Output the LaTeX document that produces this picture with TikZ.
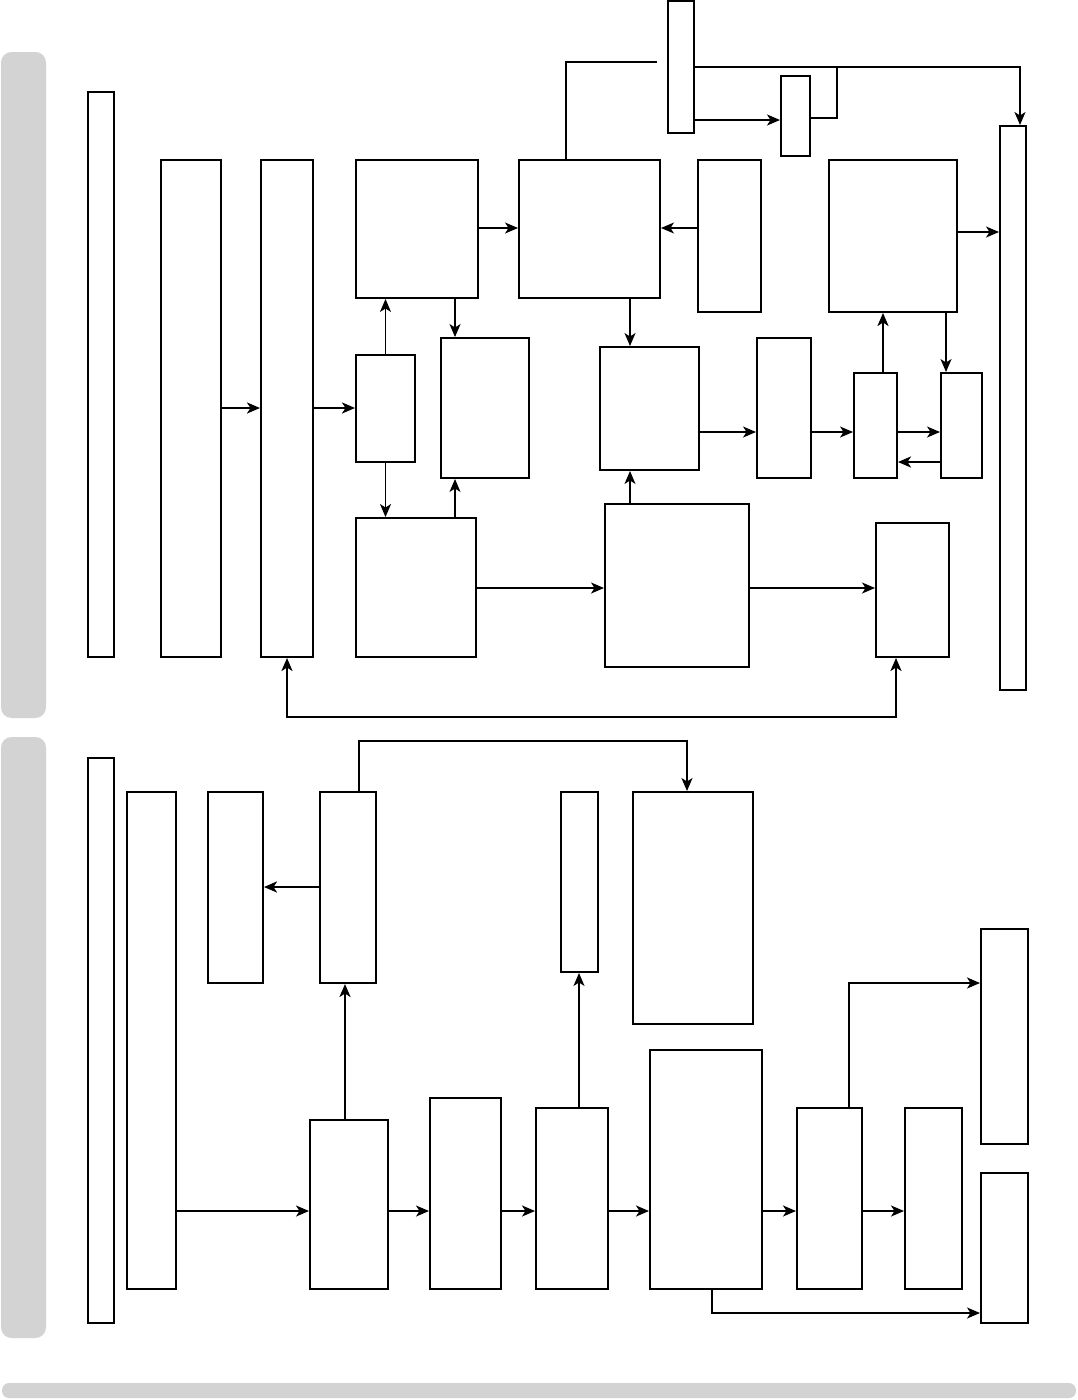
\documentclass[tikz,border=0pt]{standalone}
\usetikzlibrary{arrows.meta,fit}
\definecolor{tabgrey}{RGB}{211,211,211}
\tikzset{
  blk/.style={draw, line width=1.1pt, inner sep=0pt, fill=white},
  line/.style={line width=0.9pt},
  arr/.style={-{Stealth[length=2.6mm,width=2.2mm,inset=0.7mm]}, line width=0.9pt},
  midarr/.style={arr, line width=1.2pt},
  thickarr/.style={arr, line width=1.6pt},
  dblarr/.style={{Stealth[length=2.6mm,width=2.2mm,inset=0.7mm]}-{Stealth[length=2.6mm,width=2.2mm,inset=0.7mm]}, line width=1.4pt}
}
\begin{document}
\begin{tikzpicture}[x=0.2mm,y=-0.2mm]
\useasboundingbox (0,0) rectangle (1078,1400);
% grey tabs and bar
\fill[tabgrey,rounded corners=6pt] (1,52) rectangle (46,718);
\fill[tabgrey,rounded corners=6pt] (1,737) rectangle (46,1338);
\fill[tabgrey,rounded corners=4pt] (2,1383) rectangle (1076,1398);
% upper panel
\foreach \n/\xa/\ya/\xb/\yb in {p1/88/92/114/657, p2/161/160/221/657, p3/261/160/313/657,
  p4/356/160/478/298, p5/519/160/660/298, p6/698/160/761/312, p7/829/160/957/312,
  p8/668/1/694/133, p9/781/76/810/156, p10/1000/126/1026/690, p11/356/355/415/462,
  p12/441/338/529/478, p13/600/347/699/470, p14/757/338/811/478, p15/854/373/897/478,
  p16/941/373/982/478, p17/356/518/476/657, p18/605/504/749/667, p19/876/523/949/657}
  \node[blk, fit={(\xa,\ya) (\xb,\yb)}] (\n) {};
\draw[thickarr] (p2.east |- 0,408) -- (p3.west |- 0,408);
\draw[thickarr] (p3.east |- 0,408) -- (p11.west |- 0,408);
\draw[arr] (p11.north) -- (p11.north |- p4.south);
\draw[arr] (p11.south) -- (p11.south |- p17.north);
\draw[arr] (p4.south -| 455,0) -- (p12.north -| 455,0);
\draw[arr] (p17.north -| 455,0) -- (p12.south -| 455,0);
\draw[arr] (p4.east |- 0,228) -- (p5.west |- 0,228);
\draw[arr] (p6.west |- 0,228) -- (p5.east |- 0,228);
\draw[arr] (p5.south -| 630,0) -- (p13.north -| 630,0);
\draw[arr] (p18.north -| 630,0) -- (p13.south -| 630,0);
\draw[arr] (p13.east |- 0,432) -- (p14.west |- 0,432);
\draw[arr] (p14.east |- 0,432) -- (p15.west |- 0,432);
\draw[arr] (p15.east |- 0,432) -- (p16.west |- 0,432);
\draw[thickarr] (p16.west |- 0,462) -- (p15.east |- 0,462);
\draw[thickarr] (p15.north -| 883,0) -- (p7.south -| 883,0);
\draw[arr] (p7.south -| 946,0) -- (p16.north -| 946,0);
\draw[arr] (p7.east |- 0,232) -- (p10.west |- 0,232);
\draw[arr] (p17.east |- 0,588) -- (p18.west |- 0,588);
\draw[arr] (p18.east |- 0,588) -- (p19.west |- 0,588);
\draw[dblarr] (p3.south) -- (p3.south |- 0,717) -| (p19.south -| 896,0);
\draw[line] (p5.north -| 566,0) |- (657,62);
\coordinate (jn) at (837,67);
\draw[midarr] (p8.east |- 0,67) -| (p10.north -| 1020,0);
\draw[midarr] (p8.east |- 0,120) -- (p9.west |- 0,120);
\draw[midarr, -] (jn) |- (p9.east |- 0,118);
% lower panel
\foreach \n/\xa/\ya/\xb/\yb in {q1/88/758/114/1323, q2/127/792/176/1289, q3/208/792/263/983,
  q4/320/792/376/983, q5/561/792/598/972, q6/633/792/753/1024, q7/310/1120/388/1289,
  q8/430/1098/501/1289, q9/536/1108/608/1289, q10/650/1050/762/1289, q11/797/1108/862/1289,
  q12/905/1108/962/1289, q13/981/929/1028/1144, q14/981/1173/1028/1323}
  \node[blk, fit={(\xa,\ya) (\xb,\yb)}] (\n) {};
\draw[midarr] (q4.north -| 359,0) |- (687,741) -- (q6.north -| 687,0);
\draw[thickarr] (q4.west |- 0,887) -- (q3.east |- 0,887);
\draw[thickarr] (q7.north -| 345,0) -- (q4.south -| 345,0);
\draw[midarr] (q2.east |- 0,1211) -- (q7.west |- 0,1211);
\foreach \a/\b in {q7/q8, q8/q9, q9/q10, q10/q11, q11/q12}
  \draw[midarr] (\a.east |- 0,1211) -- (\b.west |- 0,1211);
\draw[arr] (q9.north -| 579,0) -- (q5.south -| 579,0);
\draw[midarr] (q11.north -| 849,0) |- (q13.west |- 0,983);
\draw[arr] (q10.south -| 712,0) |- (q14.west |- 0,1313);
\end{tikzpicture}
\end{document}
